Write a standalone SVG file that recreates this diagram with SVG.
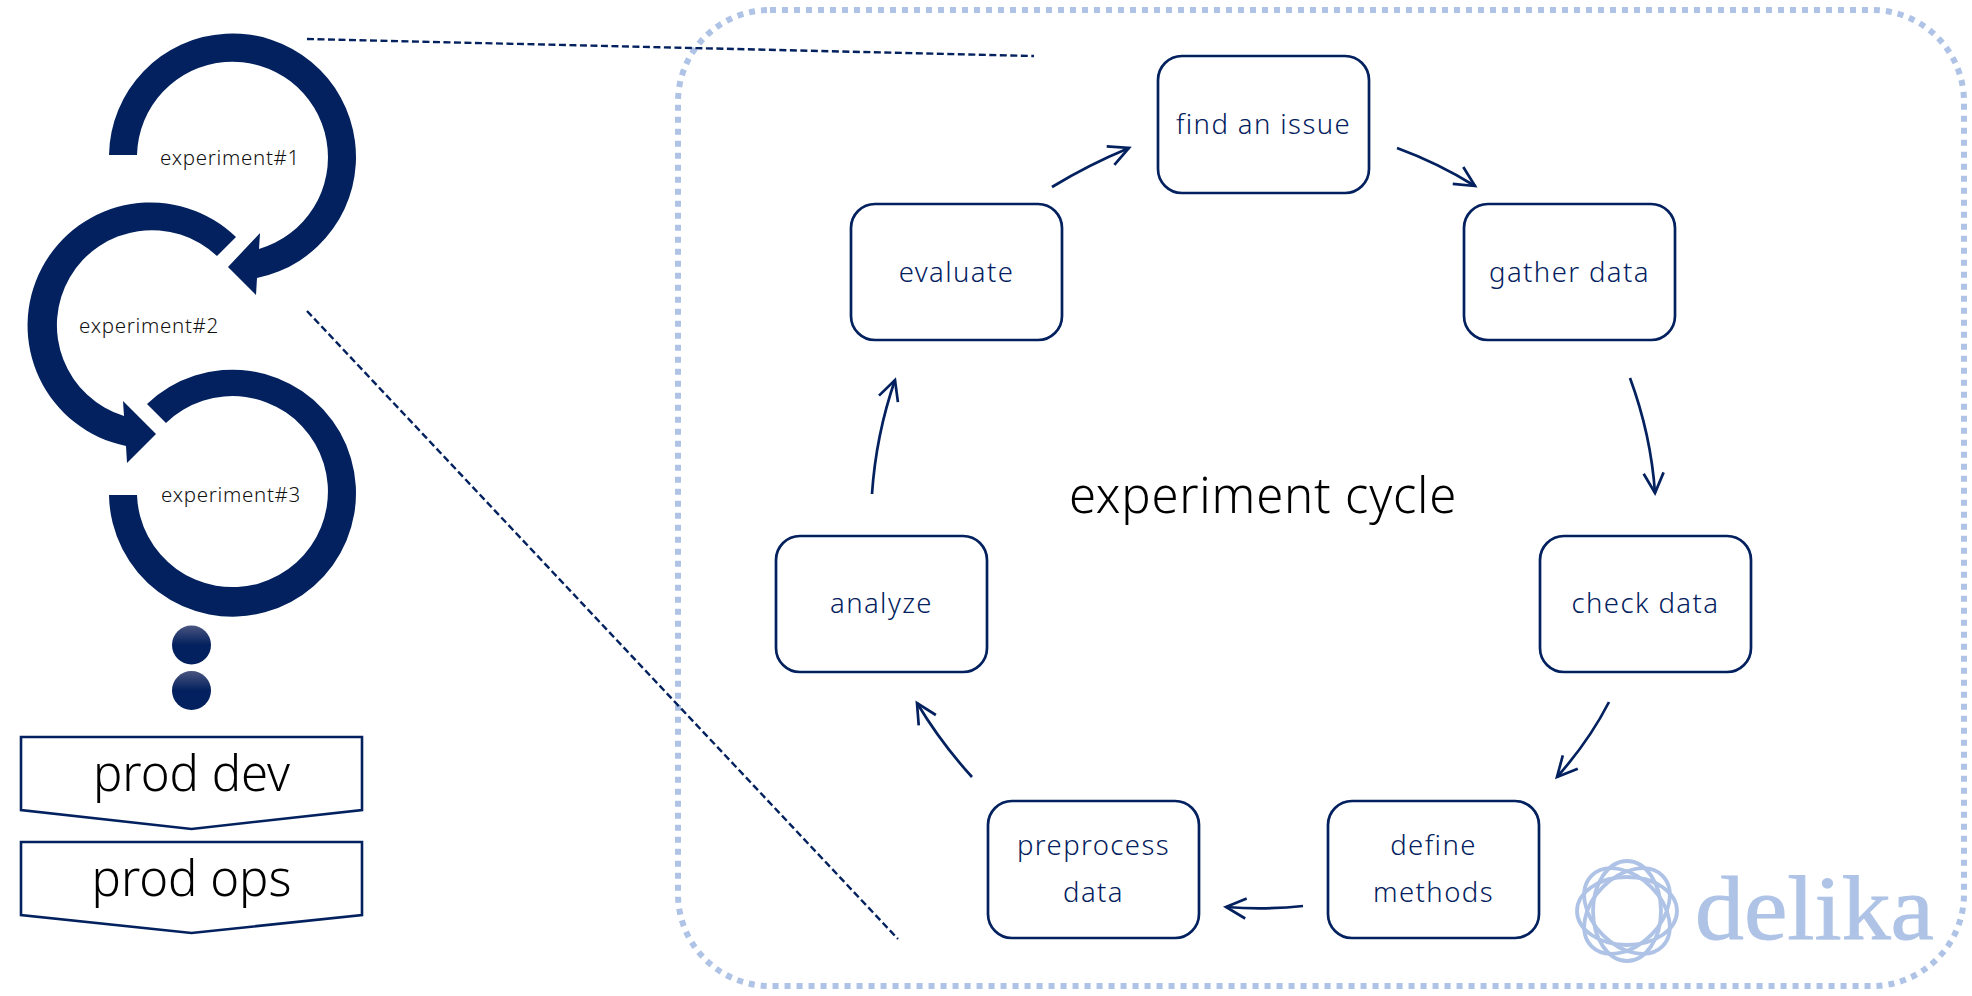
<svg xmlns="http://www.w3.org/2000/svg" width="1972" height="996" viewBox="0 0 1972 996">
<style>
text{font-family:"Noto Sans","DejaVu Sans",sans-serif;text-anchor:middle;font-weight:350}
.exp{font-size:20.5px;fill:#111;letter-spacing:.7px}
.big{font-size:49px;fill:#000}
.box{fill:#fff;stroke:#03215e;stroke-width:2.7}
.lbl{font-size:27.5px;fill:#03215e;letter-spacing:1.4px}
.ring{fill:#03215e}
.pent{fill:#fff;stroke:#03215e;stroke-width:2.6}
.con{fill:none;stroke:#03215e;stroke-width:2.7;marker-end:url(#open)}
.dash{fill:none;stroke:#03215e;stroke-width:2.4;stroke-dasharray:7 3.5}
.logo{fill:none;stroke:#aec3e6;stroke-width:3.8}
</style>
<defs>
<marker id="open" markerUnits="userSpaceOnUse" markerWidth="30" markerHeight="30" refX="22" refY="13" orient="auto" overflow="visible"><path d="M2,3 L22,13 L2,23" fill="none" stroke="#03215e" stroke-width="2.7"/></marker>
<linearGradient id="dot" x1="0" y1="0" x2="0" y2="1"><stop offset="0" stop-color="#4a5580"/><stop offset="0.5" stop-color="#03215e"/><stop offset="1" stop-color="#03215e"/></linearGradient>
</defs>
<rect id="frame" x="678" y="10" width="1286" height="976" rx="92" fill="#fff" stroke="#aec3e6" stroke-width="6" stroke-dasharray="6 6"/>
<g id="logo">
<g class="logo"><ellipse cx="1627" cy="911" rx="50" ry="34"/><ellipse cx="1627" cy="911" rx="50" ry="34" transform="rotate(45 1627 911)"/><ellipse cx="1627" cy="911" rx="50" ry="34" transform="rotate(90 1627 911)"/><ellipse cx="1627" cy="911" rx="50" ry="34" transform="rotate(135 1627 911)"/></g>
<text x="1695" y="939" style="font-family:'Liberation Serif',serif;text-anchor:start;font-size:92px;font-weight:400;fill:#aec3e6;stroke:#aec3e6;stroke-width:.9" textLength="239" lengthAdjust="spacingAndGlyphs">delika</text>
</g>
<g id="experiment1"><path class="ring" d="M109,155 A123.5,123.5 0 1 1 257,278 L256,295 L228,267 L260,233 L259,249 A95.5,95.5 0 1 0 137,155 Z"/><text class="exp" x="230" y="165">experiment#1</text></g>
<g id="experiment2"><path class="ring" d="M236,237 A123,123 0 1 0 126,446 L127,463 L156,434 L123,401 L124,416 A95,95 0 1 1 217,256 Z"/><text class="exp" x="149" y="333">experiment#2</text></g>
<g id="experiment3"><path class="ring" d="M147,404 A123.5,123.5 0 1 1 109,495 L137,495 A95.5,95.5 0 1 0 166,423 Z"/><text class="exp" x="231" y="502">experiment#3</text></g>
<g id="dots"><circle cx="191.5" cy="645" r="19.5" fill="url(#dot)"/><circle cx="191.5" cy="690.5" r="19.5" fill="url(#dot)"/></g>
<g id="prod-dev"><path class="pent" d="M21,737 H362 V810 L191.5,829 L21,810 Z"/><text class="big" x="191.5" y="791">prod dev</text></g>
<g id="prod-ops"><path class="pent" d="M21,842 H362 V915 L191.5,933 L21,915 Z"/><text class="big" x="191.5" y="896">prod ops</text></g>
<g id="connectors">
<path class="dash" d="M307,39 L1034,56"/>
<path class="dash" d="M307,311 L898,939"/>
<path class="con" d="M1052,187 Q1088,165 1129,148"/>
<path class="con" d="M1397,148 Q1438,163 1475,186"/>
<path class="con" d="M1630,378 Q1651,435 1655,493"/>
<path class="con" d="M1609,702 Q1589,741 1557,777"/>
<path class="con" d="M1303,906 Q1266,910 1226,907"/>
<path class="con" d="M972,777 Q941,743 917,703"/>
<path class="con" d="M872,494 Q876,435 895,380"/>
</g>
<g id="find"><rect class="box" x="1158" y="56" width="211" height="137" rx="24"/><text class="lbl" x="1263.5" y="134">find an issue</text></g>
<g id="gather"><rect class="box" x="1464" y="204" width="211" height="136" rx="24"/><text class="lbl" x="1569.5" y="282">gather data</text></g>
<g id="check"><rect class="box" x="1540" y="536" width="211" height="136" rx="24"/><text class="lbl" x="1645.5" y="613">check data</text></g>
<g id="define"><rect class="box" x="1328" y="801" width="211" height="137" rx="24"/><text class="lbl" x="1433.5" y="855">define</text><text class="lbl" x="1433.5" y="902">methods</text></g>
<g id="preprocess"><rect class="box" x="988" y="801" width="211" height="137" rx="24"/><text class="lbl" x="1093.5" y="855">preprocess</text><text class="lbl" x="1093.5" y="902">data</text></g>
<g id="analyze"><rect class="box" x="776" y="536" width="211" height="136" rx="24"/><text class="lbl" x="881.5" y="613">analyze</text></g>
<g id="evaluate"><rect class="box" x="851" y="204" width="211" height="136" rx="24"/><text class="lbl" x="956.5" y="282">evaluate</text></g>
<text id="title" x="1263" y="513" style="font-size:49px;fill:#000;letter-spacing:.8px">experiment cycle</text>
</svg>
